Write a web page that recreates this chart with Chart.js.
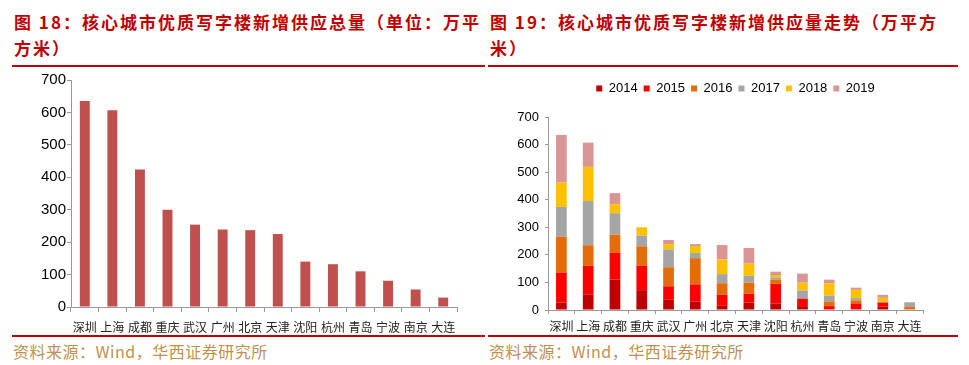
<!DOCTYPE html>
<html>
<head>
<meta charset="utf-8">
<script src="https://cdn.jsdelivr.net/npm/chart.js@4"></script>
<style>
body { margin: 0; width: 969px; height: 365px; background: #fff; position: relative; overflow: hidden; font-family: "Noto Sans CJK SC", sans-serif; }
.title { position: absolute; top: 9px; color: #C00000; font-weight: bold; font-size: 17px; line-height: 26px; letter-spacing: 2px; white-space: nowrap; }
.rule { position: absolute; height: 2px; background: #C00000; }
.source { position: absolute; top: 340px; color: #BF9050; font-size: 16px; line-height: 22px; letter-spacing: 0.5px; white-space: nowrap; }
canvas { position: absolute; top: 70px; }
</style>
</head>
<body>
<div class="title" style="left:14px">图 18：核心城市优质写字楼新增供应总量（单位：万平<br>方米）</div>
<div class="title" style="left:490px">图 19：核心城市优质写字楼新增供应量走势（万平方<br>米）</div>
<div class="rule" style="left:12px;width:473px;top:65px"></div>
<div class="rule" style="left:488px;width:470px;top:65px"></div>
<div class="rule" style="left:12px;width:473px;top:335px"></div>
<div class="rule" style="left:488px;width:470px;top:335px"></div>
<div class="source" style="left:13px">资料来源：Wind，华西证券研究所</div>
<div class="source" style="left:489px">资料来源：Wind，华西证券研究所</div>
<canvas id="totalChart" width="485" height="265" style="left:0"></canvas>
<canvas id="trendChart" width="484" height="265" style="left:485px"></canvas>
<script>
const cities = ["深圳", "上海", "成都", "重庆", "武汉", "广州", "北京", "天津", "沈阳", "杭州", "青岛", "宁波", "南京", "大连"];
const totals = [635, 607, 424, 300, 254, 239, 237, 225, 140, 132, 110, 81, 54, 29];

const years = ["2014", "2015", "2016", "2017", "2018", "2019"];
const y2014 = [27, 57, 110, 72, 37, 30, 15, 27, 24, 14, 3, 3, 12, 0];
const y2015 = [109, 103, 97, 89, 49, 63, 41, 32, 71, 27, 11, 21, 15, 2];
const y2016 = [130, 75, 66, 70, 69, 95, 41, 40, 15, 0, 17, 11, 1, 9];
const y2017 = [108, 160, 78, 39, 65, 19, 33, 25, 8, 30, 21, 8, 2, 17];
const y2018 = [88, 124, 33, 30, 19, 25, 53, 44, 9, 28, 45, 30, 14, 0];
const y2019 = [173, 88, 40, 0, 15, 7, 53, 57, 12, 33, 13, 8, 11, 0];
const yearColors = ["#C00000", "#FF0000", "#E46C0A", "#A5A5A5", "#FFC000", "#DA9694"];

const cityFont = { family: "Noto Sans CJK SC", size: 12 };

// left: total new supply
new Chart(document.getElementById("totalChart"), {
  type: "bar",
  data: {
    labels: cities,
    datasets: [{ data: totals, backgroundColor: "#C0504D", categoryPercentage: 1, barPercentage: 0.36 }],
  },
  options: {
    responsive: false,
    animation: false,
    layout: { padding: { top: 9, right: 28, left: 0, bottom: 0 } },
    plugins: { legend: { display: false }, tooltip: { enabled: false } },
    scales: {
      x: {
        grid: { drawOnChartArea: false, tickLength: 5, color: "#999" },
        border: { color: "#999" },
        ticks: { font: cityFont, color: "#222", padding: 8, maxRotation: 0, autoSkip: false },
        afterFit(s) { s.height = 28; },
      },
      y: {
        min: 0, max: 700,
        grid: { drawOnChartArea: false, tickLength: 4, color: "#999" },
        border: { color: "#999" },
        ticks: { stepSize: 100, font: { family: "Liberation Sans", size: 15 }, color: "#000", padding: 1 },
        afterFit(s) { s.width = 71; },
      },
    },
  },
});

// right: supply by year
const series = [y2014, y2015, y2016, y2017, y2018, y2019];
new Chart(document.getElementById("trendChart"), {
  type: "bar",
  data: {
    labels: cities,
    datasets: years.map((yr, i) => ({
      label: yr,
      data: series[i],
      backgroundColor: yearColors[i],
      categoryPercentage: 1,
      barPercentage: 0.4,
    })),
  },
  options: {
    responsive: false,
    animation: false,
    layout: { padding: { top: 6, right: 46, left: 0, bottom: 0 } },
    plugins: {
      tooltip: { enabled: false },
      legend: {
        fullSize: false,
        weight: 3000,
        labels: { boxWidth: 6, boxHeight: 6, padding: 6, color: "#000", font: { family: "Liberation Sans", size: 13 } },
      },
      // empty spacer between legend and plot
      title: { display: true, text: " ", font: { size: 1, lineHeight: 1 }, padding: { top: 0, bottom: 11 } },
    },
    scales: {
      x: {
        stacked: true,
        grid: { drawOnChartArea: false, tickLength: 4, color: "#999" },
        border: { color: "#999" },
        ticks: { font: cityFont, color: "#222", padding: 5, maxRotation: 0, autoSkip: false },
        afterFit(s) { s.height = 25; },
      },
      y: {
        stacked: true,
        min: 0, max: 700,
        grid: { drawOnChartArea: false, tickLength: 3, color: "#999" },
        border: { color: "#999" },
        ticks: { stepSize: 100, font: { family: "Liberation Sans", size: 13 }, color: "#000", padding: 6 },
        afterFit(s) { s.width = 63; },
      },
    },
  },
});
</script>
</body>
</html>
